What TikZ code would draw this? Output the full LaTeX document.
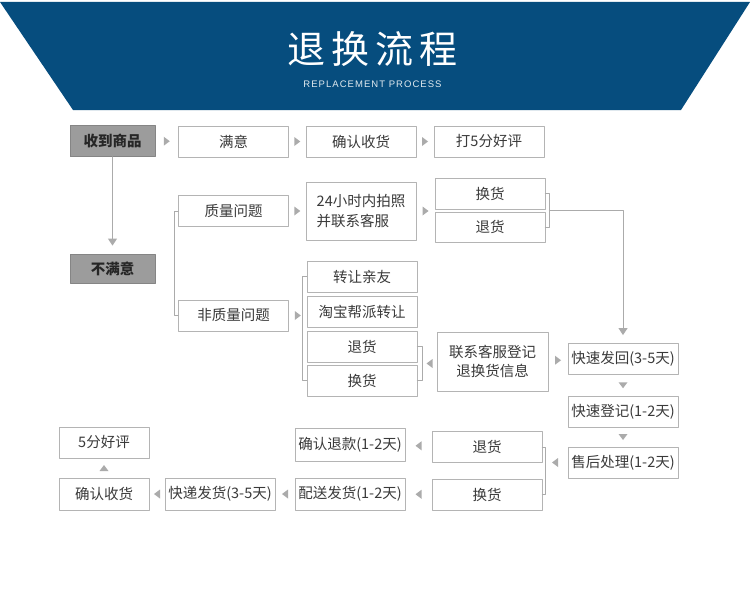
\documentclass[tikz,border=0pt]{standalone}
\usepackage{fontspec}
\setmainfont{Noto Sans CJK SC}
\newfontfamily\latinfont{Liberation Sans}
\usetikzlibrary{arrows.meta,calc}
\definecolor{bannerblue}{HTML}{064D7E}
\definecolor{boxline}{HTML}{B4B4B4}
\definecolor{linkgray}{HTML}{ABABAB}
\definecolor{boxtext}{HTML}{3A3A3A}
\definecolor{keyfill}{HTML}{9C9C9C}
\def\BoxW{110}
\def\BoxH{31}
\def\TitleGap{6pt}

\begin{document}
\begin{tikzpicture}[
  x=1pt, y=-1pt, line cap=round, line join=round,
  every node/.style={font=\fontsize{14.5}{20}\selectfont, text=boxtext},
  stepbox/.style={draw=boxline, line width=0.9pt, fill=white,
    minimum width=\BoxW pt, minimum height=\BoxH pt, inner sep=0pt},
  keybox/.style={stepbox, fill=keyfill, draw=keyfill!85!black,
    minimum width=85pt, text=black!85,
    font=\fontsize{14.5}{17}\selectfont\bfseries},
  link/.style={draw=linkgray, line width=1pt},
  tip/.style={-{Triangle[width=9pt,length=7pt]}, shorten >=8pt},
  trir/.pic={\fill[linkgray] (-3,-4.5) -- (3,0) -- (-3,4.5) -- cycle;},
  tril/.pic={\fill[linkgray] (3,-4.5) -- (-3,0) -- (3,4.5) -- cycle;},
  trid/.pic={\fill[linkgray] (-4.5,-3) -- (0,3) -- (4.5,-3) -- cycle;},
  triu/.pic={\fill[linkgray] (-4.5,3) -- (0,-3) -- (4.5,3) -- cycle;}
]
\path[use as bounding box, fill=white] (0,0) rectangle (750,594);

% --- Banner -------------------------------------------------------------
\fill[bannerblue] (0,2) -- (750,2) -- (681,110) -- (73,110) -- cycle;
\node[text=white, font=\fontsize{38}{40}\selectfont] (title) at (372.5,49)
  {退\hspace{\TitleGap}换\hspace{\TitleGap}流\hspace{\TitleGap}程};
\node[text=white!88!bannerblue,
  font=\latinfont\fontsize{9.5}{11}\selectfont\addfontfeature{LetterSpace=11}]
  (subtitle) at (372.5,84.5) {REPLACEMENT PROCESS};

% --- Received / satisfied -----------------------------------------------
\node[keybox] (get) at (112.5,141) {收到商品};
\node[stepbox] (sat) at (233.5,141.5) {满意};
\node[stepbox] (conf1) at (361,141.5) {确认收货};
\node[stepbox] (rate1) at (489,141.5) {打5分好评};
\node[keybox, minimum height=29pt] (unsat) at (112.5,268.5) {不满意};

% --- Quality problem ----------------------------------------------------
\node[stepbox] (qual) at (233.5,211) {质量问题};
\node[stepbox, minimum height=58pt, align=left] (photo) at (361,211)
  {24小时内拍照\\并联系客服};
\node[stepbox] (exch1) at (490,193.5) {换货};
\node[stepbox, minimum height=30pt] (ret1) at (490,227) {退货};

% --- No quality problem -------------------------------------------------
\node[stepbox] (nqual) at (233.5,315.5) {非质量问题};
\node[stepbox] (gift) at (362,276.5) {转让亲友};
\node[stepbox] (taobao) at (362,311.5) {淘宝帮派转让};
\node[stepbox] (ret2) at (362,346.5) {退货};
\node[stepbox] (exch2) at (362,380.5) {换货};
\node[stepbox, minimum width=111pt, minimum height=59pt,
  font=\fontsize{14.5}{19}\selectfont, align=center] (contact) at (492.5,361.5)
  {联系客服登记\\退换货信息};

% --- After-sales column -------------------------------------------------
\node[stepbox] (back) at (623,359) {快速发回(3-5天)};
\node[stepbox] (reg) at (623,411.5) {快速登记(1-2天)};
\node[stepbox] (after) at (623,462.5) {售后处理(1-2天)};

% --- Refund / exchange rows ---------------------------------------------
\node[stepbox] (ret3) at (487,447) {退货};
\node[stepbox] (exch3) at (487,494.5) {换货};
\node[stepbox, minimum height=33pt] (refund) at (350,444.5) {确认退款(1-2天)};
\node[stepbox, minimum height=32pt] (ship) at (350,494) {配送发货(1-2天)};
\node[stepbox, minimum height=32pt] (express) at (220,494) {快递发货(3-5天)};
\node[stepbox, minimum width=90pt, minimum height=32pt] (conf2) at (104,494) {确认收货};
\node[stepbox, minimum width=90pt] (rate2) at (104,442.5) {5分好评};

% --- Lines and brackets -------------------------------------------------
\draw[link, tip] (get) -- (unsat);
\draw[link] (qual.west) -- ++(-4,0) |- (nqual.west);
\draw[link] (gift.west) -- ++(-4,0) |- (exch2.west);
\draw[link] (exch1.east) -- ++(4,0) |- (ret1.east);
\draw[link] (ret2.east) -- ++(5,0) |- (exch2.east);
\draw[link] (ret3.east) -- ++(3,0) |- (exch3.east);
\path (exch1.east) -- coordinate[midway] (upmid) (ret1.east);
\path (ret2.east) -- coordinate[midway] (lowmid) (exch2.east);
\draw[link, tip] ([xshift=4pt]upmid) -| (back);

% --- Small arrow heads --------------------------------------------------
\path (get) -- pic{trir} (sat);
\path (sat) -- pic{trir} (conf1);
\path (conf1) -- pic{trir} (rate1);
\path (qual) -- pic{trir} (photo);
\path (photo) -- pic{trir} (photo -| exch1.west);
\path (nqual) -- pic{trir} (nqual -| gift.west);
\path (contact.west |- lowmid) -- pic{tril} ([xshift=5pt]lowmid);
\path (contact) -- pic{trir} (back);
\path (back) -- pic{trid} (reg);
\path (reg) -- pic{trid} (after);
\path (after) -- pic{tril} (after -| ret3.east);
\path (ret3) -- pic{tril} (refund);
\path (exch3) -- pic{tril} (ship);
\path (ship) -- pic{tril} (express);
\path (express) -- pic{tril} (conf2);
\path (conf2) -- pic{triu} (rate2);

\end{tikzpicture}
\end{document}
